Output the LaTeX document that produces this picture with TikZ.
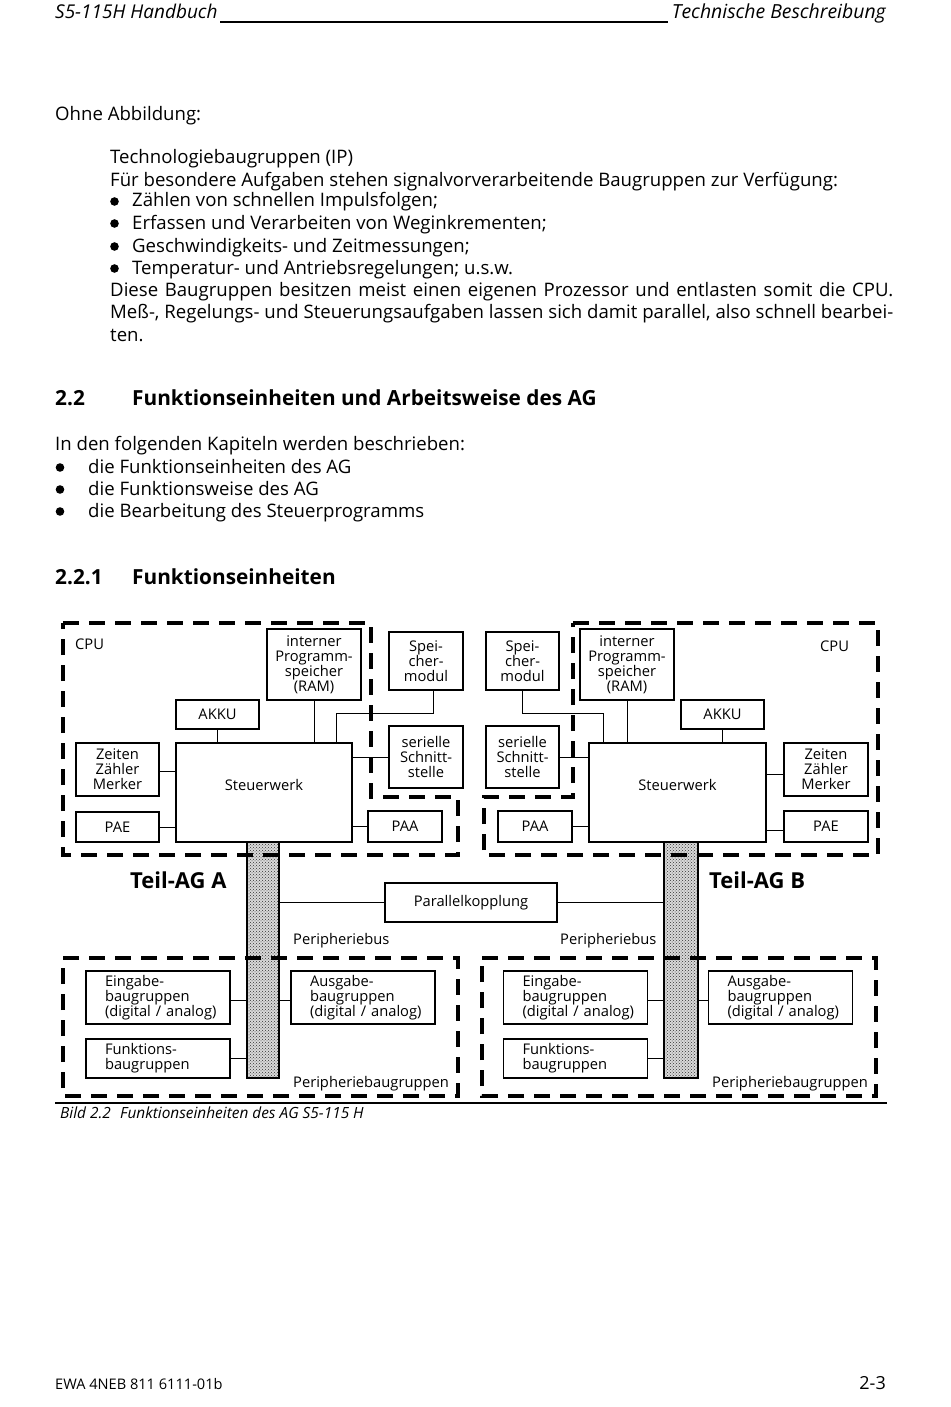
\documentclass[tikz,border=0pt]{standalone}
\usepackage{fontspec}
\setmainfont{Open Sans}
\usetikzlibrary{patterns}

\newcommand{\bodyfont}{\fontsize{18.6}{22}\selectfont}
\newcommand{\dgmfont}{\fontsize{14.7}{15}\selectfont}
\newcommand{\headfont}{\fontsize{20.8}{24}\selectfont\bfseries}

\tikzset{
  txt/.style={anchor=base west, inner sep=0pt, font=\bodyfont},
  lbl/.style={anchor=base west, inner sep=0pt, font=\dgmfont},
  box/.style={draw, line width=1.3pt, align=center, inner sep=0pt, font=\dgmfont},
  peri/.style={box, minimum width=144, minimum height=53, text width=106, align=left},
  conn/.style={line width=1pt},
  cpuline/.style={line width=4pt, dash pattern=on 16pt off 10pt},
  bus/.style={draw, line width=1.2pt, preaction={fill=gray!30}, pattern=crosshatch dots, pattern color=black!80},
}

\begin{document}
\begin{tikzpicture}[x=1pt,y=-1pt]

\fill[white] (0,0) rectangle (950,1407);
\useasboundingbox (0,0) rectangle (950,1407);

% Kopfzeile
\node[anchor=base west, inner sep=0pt, font=\fontsize{19}{22}\selectfont\itshape] (hdl) at (55,19) {S5-115H Handbuch};
\node[anchor=base east, inner sep=0pt, font=\fontsize{19.4}{22}\selectfont\itshape] (hdr) at (886,19) {Technische Beschreibung};
\draw[line width=1.5pt] (220,22) -- (668,22);

% Text
\node[txt] (t0) at (55,121) {Ohne Abbildung:};
\node[txt] (t1) at (110,164) {Technologiebaugruppen (IP)};
\node[txt] (t2) at (110,186) {Für besondere Aufgaben stehen signalvorverarbeitende Baugruppen zur Verfügung:};
\foreach \y in {207,229,252,274}
{
\fill (114.5,\y-5.5) circle (4.3pt);
}
\node[txt] (t3) at (132,207) {Zählen von schnellen Impulsfolgen;};
\node[txt] (t4) at (132,229) {Erfassen und Verarbeiten von Weginkrementen;};
\node[txt] (t5) at (132,252) {Geschwindigkeits- und Zeitmessungen;};
\node[txt] (t6) at (132,274) {Temperatur- und Antriebsregelungen; u.s.w.};
\node[txt] (t7) at (110,296) {\makebox[783pt][s]{Diese Baugruppen besitzen meist einen eigenen Prozessor und entlasten somit die CPU.}};
\node[txt] (t8) at (110,318) {\makebox[783pt][s]{Meß-, Regelungs- und Steuerungsaufgaben lassen sich damit parallel, also schnell bearbei-}};
\node[txt] (t9) at (110,341) {ten.};

\node[txt, font=\headfont] (h1n) at (55,405) {2.2};
\node[txt, font=\headfont] (h1) at (132,405) {Funktionseinheiten und Arbeitsweise des AG};

\node[txt] (t10) at (55,450) {In den folgenden Kapiteln werden beschrieben:};
\foreach \y in {473,495,517}
{
\fill (60,\y-5.5) circle (4.3pt);
}
\node[txt] (t11) at (88,473) {die Funktionseinheiten des AG};
\node[txt] (t12) at (88,495) {die Funktionsweise des AG};
\node[txt] (t13) at (88,517) {die Bearbeitung des Steuerprogramms};

\node[txt, font=\headfont] (h2n) at (55,584) {2.2.1};
\node[txt, font=\headfont] (h2) at (132,584) {Funktionseinheiten};

% Teil-AG A
\node[box, minimum width=94, minimum height=71] (ramA) at (314,664.5) {interner\\Programm-\\speicher\\(RAM)};
\node[box, minimum width=83, minimum height=29] (akkuA) at (217.5,714.5) {AKKU};
\node[box, minimum width=176, minimum height=99] (swA) at (264,792.5) {};
\node[font=\dgmfont, inner sep=0pt] (swAt) at ([yshift=8pt]swA.center) {Steuerwerk};
\node[box, minimum width=83, minimum height=53] (zzmA) at (117.5,769.5) {Zeiten\\Zähler\\Merker};
\node[box, minimum width=83, minimum height=30] (paeA) at (117.5,827) {PAE};
\node[box, minimum width=74, minimum height=31] (paaA) at (405,826.5) {PAA};
\node[box, minimum width=74, minimum height=58] (smA) at (426,661) {Spei-\\cher-\\modul};
\node[box, minimum width=74, minimum height=62] (siA) at (426,757) {serielle\\Schnitt-\\stelle};
\node[lbl] (cpuA) at (75,649.5) {CPU};

\draw[conn] (akkuA.south) -- (akkuA.south |- swA.north);
\draw[conn] (ramA.south) -- (ramA.south |- swA.north);
\draw[conn] ([xshift=7pt]smA.south) -- ++(0,23) -| ([xshift=161pt]swA.north west);
\draw[conn] (siA.west) -- (siA.west -| swA.east);
\draw[conn] (paaA.west) -- (paaA.west -| swA.east);
\draw[conn] ([yshift=-2pt]zzmA.east) -- ([yshift=-2pt]zzmA.east -| swA.west);
\draw[conn] (paeA.east) -- (paeA.east -| swA.west);

% Teil-AG B
\node[box, minimum width=94, minimum height=71] (ramB) at (627,664.5) {interner\\Programm-\\speicher\\(RAM)};
\node[box, minimum width=83, minimum height=29] (akkuB) at (722.5,714.5) {AKKU};
\node[box, minimum width=177, minimum height=99] (swB) at (677.5,792.5) {};
\node[font=\dgmfont, inner sep=0pt] (swBt) at ([yshift=8pt]swB.center) {Steuerwerk};
\node[box, minimum width=84, minimum height=53] (zzmB) at (826,769.5) {Zeiten\\Zähler\\Merker};
\node[box, minimum width=84, minimum height=31] (paeB) at (826,826.5) {PAE};
\node[box, minimum width=74, minimum height=31] (paaB) at (535,826.5) {PAA};
\node[box, minimum width=73, minimum height=58] (smB) at (522.5,661) {Spei-\\cher-\\modul};
\node[box, minimum width=73, minimum height=62] (siB) at (522.5,757) {serielle\\Schnitt-\\stelle};
\node[lbl] (cpuB) at (820,651.5) {CPU};

\draw[conn] (akkuB.south) -- (akkuB.south |- swB.north);
\draw[conn] (ramB.south) -- (ramB.south |- swB.north);
\draw[conn] (smB.south) -- ++(0,23) -| ([xshift=15pt]swB.north west);
\draw[conn] (siB.east) -- (siB.east -| swB.west);
\draw[conn] (paaB.east) -- (paaB.east -| swB.west);
\draw[conn] ([yshift=-4.5pt]zzmB.west) -- ([yshift=-4.5pt]zzmB.west -| swB.east);
\draw[conn] ([yshift=-4pt]paeB.west) -- ([yshift=-4pt]paeB.west -| swB.east);

\node[anchor=base west, inner sep=0pt, font=\fontsize{22}{26}\selectfont\bfseries] (tagA) at (130,888) {Teil-AG A};
\node[anchor=base west, inner sep=0pt, font=\fontsize{22}{26}\selectfont\bfseries] (tagB) at (709,888) {Teil-AG B};

% Peripheriebus
\node[bus, minimum width=32, minimum height=236] (busA) at (263,960) {};
\node[bus, minimum width=34, minimum height=236] (busB) at (681,960) {};
\node[box, minimum width=172, minimum height=39] (pk) at (471,902.5) {Parallelkopplung};
\draw[conn] (pk.west) -- (pk.west -| busA.east);
\draw[conn] (pk.east) -- (pk.east -| busB.west);
\node[lbl] (pbA) at (293,944) {Peripheriebus};
\node[lbl] (pbB) at (560,944) {Peripheriebus};

% Peripheriebaugruppen
\node[peri] (einA) at (158,997.5) {Eingabe-\\baugruppen\\\mbox{(digital / analog)}};
\node[peri] (ausA) at (363,997.5) {Ausgabe-\\baugruppen\\\mbox{(digital / analog)}};
\node[peri, minimum height=39] (funA) at (158,1058.5) {Funktions-\\baugruppen};
\node[peri] (einB) at (575.5,997.5) {Eingabe-\\baugruppen\\\mbox{(digital / analog)}};
\node[peri] (ausB) at (780.5,997.5) {Ausgabe-\\baugruppen\\\mbox{(digital / analog)}};
\node[peri, minimum height=39] (funB) at (575.5,1058.5) {Funktions-\\baugruppen};

\draw[conn] ([yshift=-3pt]einA.east) -- ([yshift=-3pt]einA.east -| busA.west);
\draw[conn] ([yshift=-3pt]ausA.west) -- ([yshift=-3pt]ausA.west -| busA.east);
\draw[conn] (funA.east) -- (funA.east -| busA.west);
\draw[conn] ([yshift=-3pt]einB.east) -- ([yshift=-3pt]einB.east -| busB.west);
\draw[conn] ([yshift=-3pt]ausB.west) -- ([yshift=-3pt]ausB.west -| busB.east);
\draw[conn] (funB.east) -- (funB.east -| busB.west);

\node[lbl, anchor=base east] (pgA) at (449,1087) {Peripheriebaugruppen};
\node[lbl, anchor=base east] (pgB) at (868,1087) {Peripheriebaugruppen};

% Rahmen
\draw[cpuline] (63,623) -- (371,623) -- (371,797) -- (458,797) -- (458,855) -- (63,855) -- cycle;
\draw[cpuline] (573,623) -- (878,623) -- (878,855) -- (484,855) -- (484,797) -- (573,797) -- cycle;
\draw[cpuline] (63,958) -- (458,958) -- (458,1096) -- (63,1096) -- cycle;
\draw[cpuline] (482,958) -- (876,958) -- (876,1096) -- (482,1096) -- cycle;

% Bildunterschrift
\draw[line width=1.3pt] (55,1103) -- (887,1103);
\node[anchor=base west, inner sep=0pt, font=\fontsize{15.4}{18}\selectfont\itshape] (cap) at (60,1118) {Bild 2.2\hspace{0.6em}Funktionseinheiten des AG S5-115 H};

% Fusszeile
\node[anchor=base west, inner sep=0pt, font=\fontsize{14.6}{16}\selectfont] (ftl) at (55,1389) {EWA 4NEB 811 6111-01b};
\node[anchor=base east, inner sep=0pt, font=\fontsize{18}{20}\selectfont] (ftr) at (886,1389) {2-3};

\end{tikzpicture}
\end{document}
